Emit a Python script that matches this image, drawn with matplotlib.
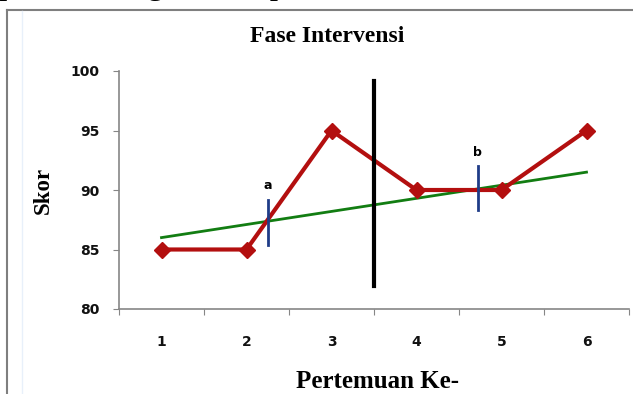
import matplotlib
matplotlib.use("Agg")
import matplotlib.pyplot as plt
from matplotlib.lines import Line2D

# skor tiap pertemuan (fase intervensi)
pertemuan = [1, 2, 3, 4, 5, 6]
skor = [85, 85, 95, 90, 90, 95]

# garis kecenderungan (awal, akhir)
trend_x = [1, 6]
trend_y = [86.0, 91.5]

# garis pemisah dan penanda a / b
pemisah_x = 3.5
pemisah_y = [81.9, 99.2]
penanda_label = ["a", "b"]
penanda_x = [2.25, 4.72]
penanda_y0 = [85.4, 88.3]
penanda_y1 = [89.2, 92.0]

y_ticks = [80, 85, 90, 95, 100]

serif = ["Liberation Serif", "DejaVu Serif"]

fig = plt.figure(figsize=(6.33, 3.94), dpi=100)
ax = fig.add_axes([119 / 633, 85 / 394, 510 / 633, 238 / 394])

ax.plot(trend_x, trend_y, color="#127d12", lw=2, zorder=3)
ax.plot(pertemuan, skor, color="#b30f0f", lw=3, marker="D", markersize=8, zorder=4)
ax.plot([pemisah_x, pemisah_x], pemisah_y, color="black", lw=3, zorder=5)
for lab, px, y0, y1 in zip(penanda_label, penanda_x, penanda_y0, penanda_y1):
    ax.plot([px, px], [y0, y1], color="#1f3c88", lw=2, zorder=6)
    ax.text(px, y1 + 0.6, lab, ha="center", va="bottom", fontsize=9, fontweight="bold")

ax.set_xlim(0.5, 6.5)
ax.set_ylim(80, 100)
ax.set_yticks(y_ticks)
ax.set_yticklabels([str(v) for v in y_ticks], fontsize=10, fontweight="bold", color="#111111")
ax.set_xticks([i + 0.5 for i in range(0, 7)])
ax.set_xticklabels([])
ax.set_xticks(pertemuan, minor=True)
ax.set_xticklabels([str(p) for p in pertemuan], minor=True, fontsize=10,
                   fontweight="bold", color="#111111")
ax.tick_params(axis="x", which="minor", length=0, pad=19)
ax.tick_params(axis="x", which="major", length=4, color="#868686", direction="out")
ax.tick_params(axis="y", length=4, color="#868686", pad=10)

for s in ["top", "right"]:
    ax.spines[s].set_visible(False)
for s in ["left", "bottom"]:
    ax.spines[s].set_color("#868686")
    ax.spines[s].set_linewidth(1.2)

fig.text(327 / 633, 1 - 37 / 394, "Fase Intervensi", ha="center", va="center",
         family=serif, fontsize=17, fontweight="bold")
fig.text(43 / 633, 1 - 190 / 394, "Skor", ha="center", va="center", rotation=90,
         family=serif, fontsize=16.5, fontweight="bold")
fig.text(377 / 633, 1 - 382 / 394, "Pertemuan Ke-", ha="center", va="center",
         family=serif, fontsize=18, fontweight="bold")

# bingkai grafik dan potongan teks di atasnya
fig.add_artist(Line2D([7 / 633, 7 / 633], [0, 1 - 10 / 394], color="#7f7f7f", lw=1.5))
fig.add_artist(Line2D([7 / 633, 1], [1 - 10 / 394, 1 - 10 / 394], color="#7f7f7f", lw=1.5))
fig.add_artist(Line2D([22 / 633, 22 / 633], [0, 1 - 11 / 394], color="#e8f0fa", lw=1))
fig.text(-0.002, 1 + 6 / 394, "perkembangan skor pada", ha="left", va="baseline",
         family=serif, fontsize=24)

fig.savefig("out.png", dpi=100)
